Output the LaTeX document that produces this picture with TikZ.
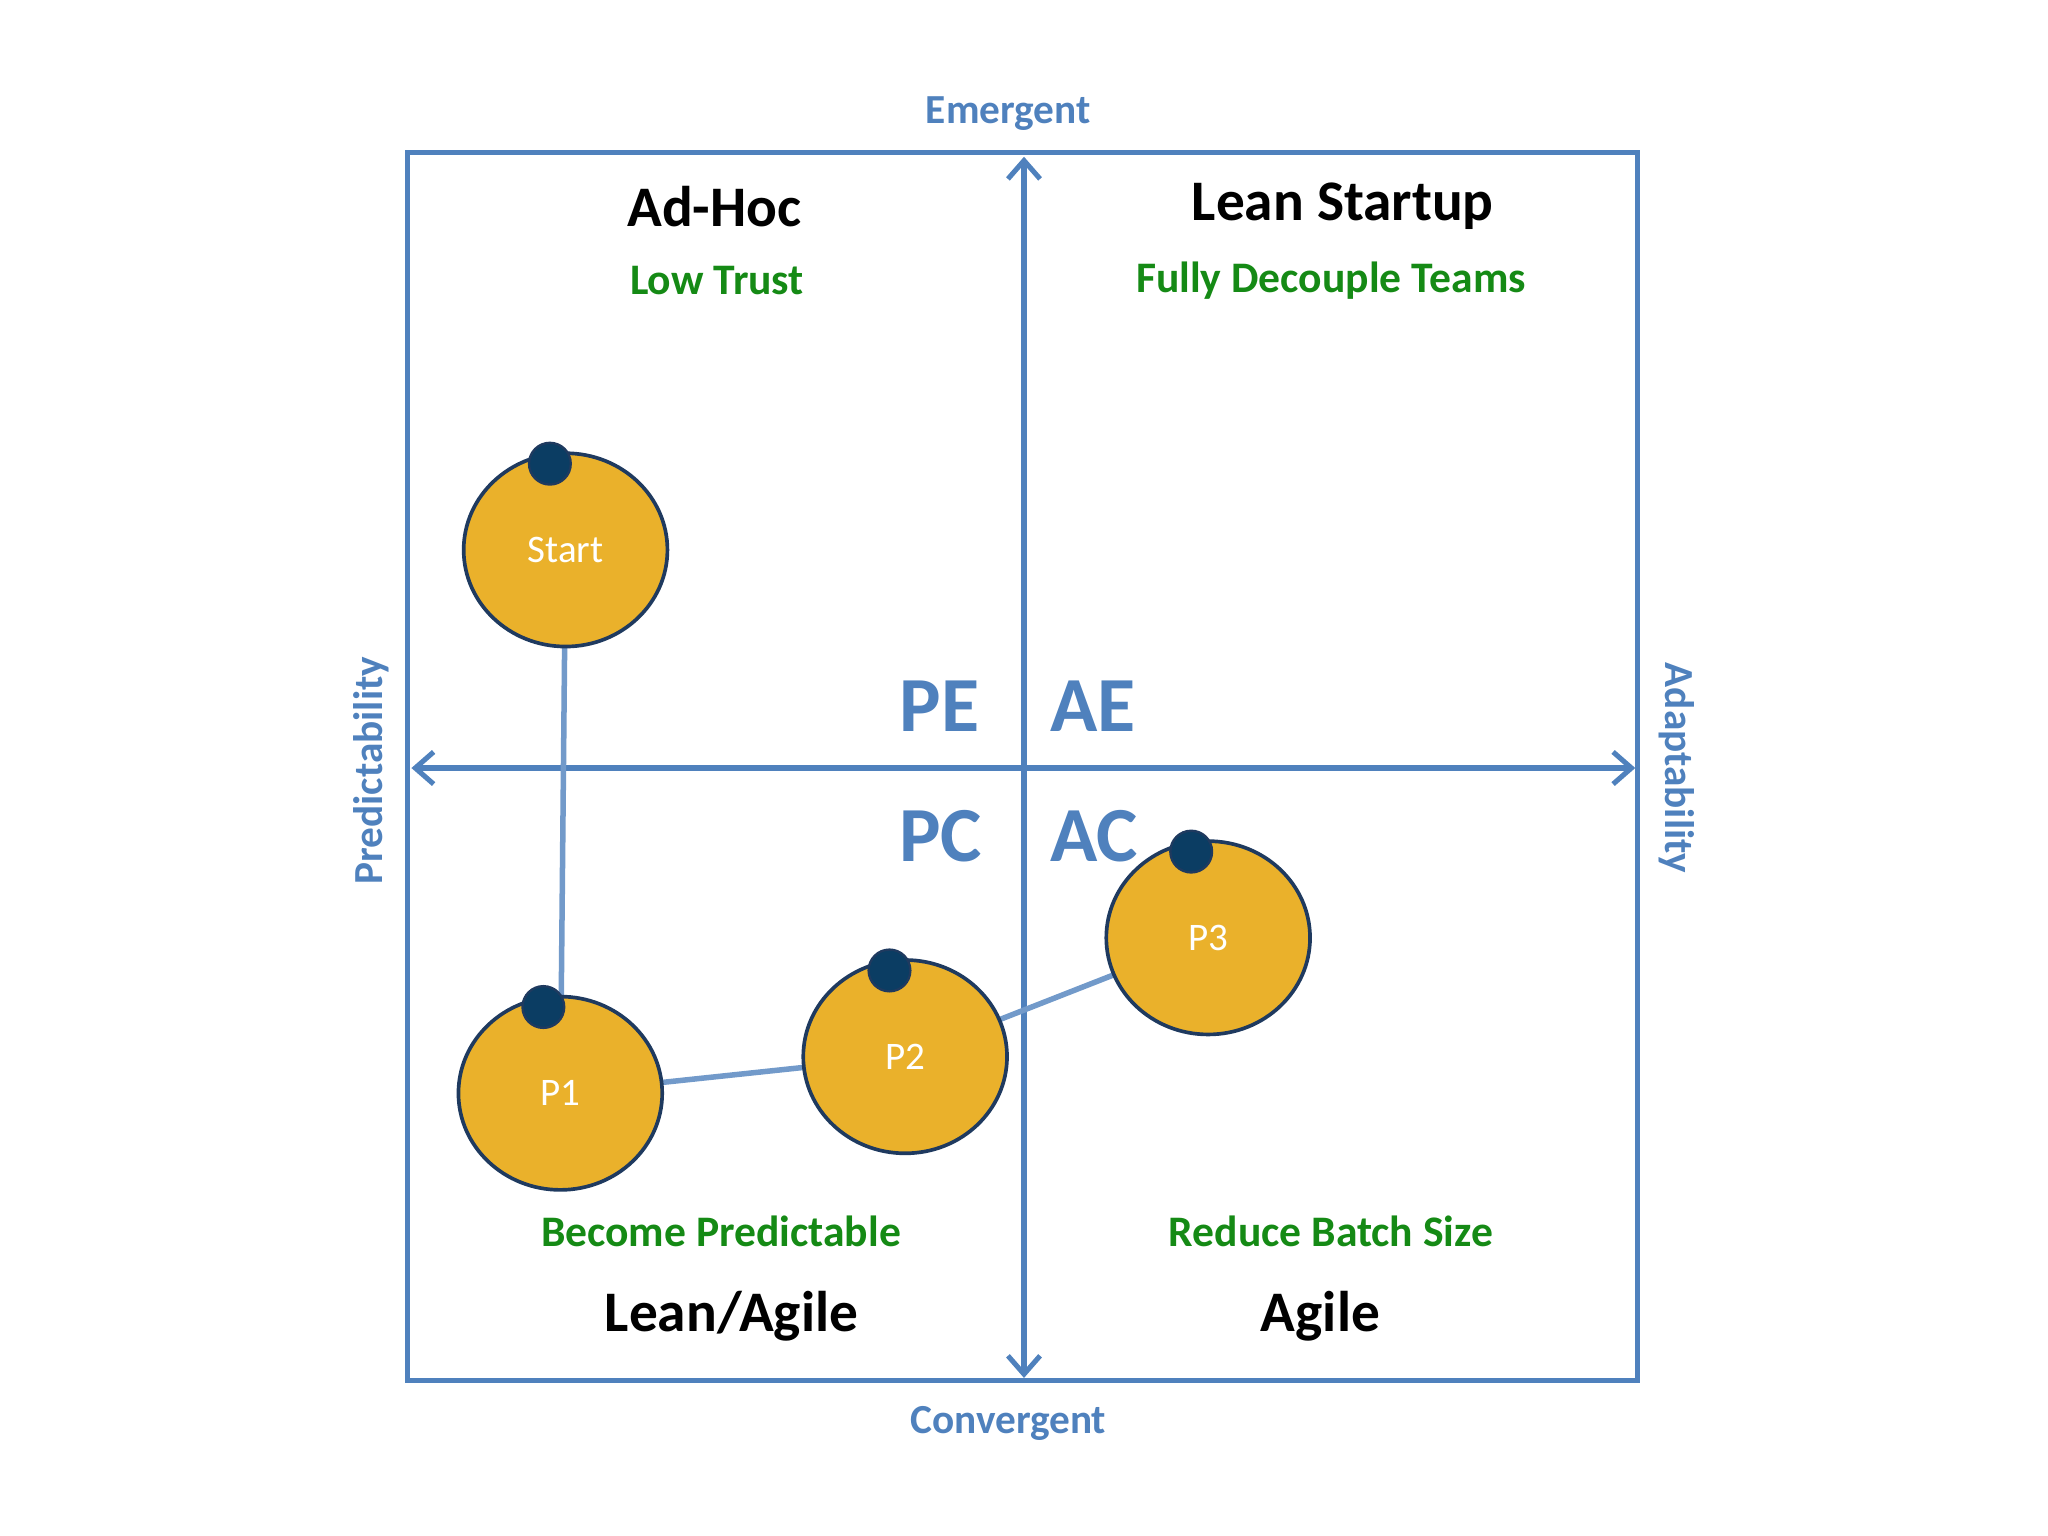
\documentclass[tikz,border=0pt]{standalone}
\usepackage{fontspec}
\setmainfont{Carlito}
\usetikzlibrary{arrows.meta,calc}
\definecolor{ablue}{HTML}{4F81BD}
\definecolor{agreen}{HTML}{158A15}
\definecolor{agold}{HTML}{EAB12B}
\definecolor{adark}{HTML}{1F3A5F}
\definecolor{adot}{HTML}{0B3D63}
\begin{document}
\begin{tikzpicture}[x=0.02cm,y=-0.02cm,
  axis/.style={draw=ablue,line width=2.2pt,{Straight Barb[length=8pt,width=14pt]}-{Straight Barb[length=8pt,width=14pt]}},
  dotn/.style={circle,draw=adark,line width=1pt,fill=adot,minimum size=0.64cm,inner sep=0pt},
  link/.style={draw=ablue!80,line width=2.4pt},
  axlab/.style={text=ablue,font=\bfseries\fontsize{18}{18}\selectfont},
  title/.style={font=\bfseries\fontsize{25}{25}\selectfont},
  sub/.style={text=agreen,font=\bfseries\fontsize{19}{19}\selectfont},
  quad/.style={text=ablue,font=\bfseries\fontsize{34}{34}\selectfont}]
\useasboundingbox (0,0) rectangle (1568,1176);
\draw[ablue,line width=2.2pt] (312,117) rectangle (1254,1057);
\coordinate (top) at (784,120); \coordinate (bot) at (784,1055);
\coordinate (lft) at (315,588); \coordinate (rgt) at (1252,588);
\draw[axis] (bot) -- (top);
\draw[axis] (lft) -- (rgt);
\node[axlab] (em) at (772,87) {Emergent};
\node[axlab] (cv) at (772,1090) {Convergent};
\node[axlab,rotate=90] (pr) at (284,590) {Predictability};
\node[axlab,rotate=-90] (ad) at (1284,588) {Adaptability};
\node[title] (ah) at (547,158) {Ad-Hoc};
\node[sub] (lt) at (549,215) {Low Trust};
\node[title] (ls) at (1028,158) {Lean Startup};
\node[sub] (fd) at (1019,215) {Fully Decouple Teams};
\node[sub] (bp) at (552,943) {Become Predictable};
\node[title] (la) at (560,1008) {Lean/Agile};
\node[sub] (rb) at (1019,943) {Reduce Batch Size};
\node[title] (ag) at (1011,1008) {Agile};
\node[quad,anchor=east] (pe) at (756,541) {PE};
\node[quad,anchor=west] (ae) at (798,541) {AE};
\node[quad,anchor=east] (pc) at (758,640) {PC};
\node[quad,anchor=west] (ac) at (798,640) {AC};
\path (433,421) coordinate (cs) (429,837) coordinate (c1) (693,809) coordinate (c2) (925,718) coordinate (c3);
\draw[link] (cs) -- (c1);
\draw[link] (c1) -- (c2);
\draw[link] (c2) -- (c3);
\foreach \c/\t/\dx in {cs/Start/-12,c1/P1/-13,c2/P2/-12,c3/P3/-13}{
  \filldraw[draw=adark,line width=1.6pt,fill=agold] (\c) ellipse [x radius=78,y radius=74];
  \node[text=white,font=\fontsize{17}{17}\selectfont] (t\c) at (\c) {\t};
  \node[dotn] (d\c) at ($(\c)+(\dx,-66)$) {};
}
\end{tikzpicture}
\end{document}
